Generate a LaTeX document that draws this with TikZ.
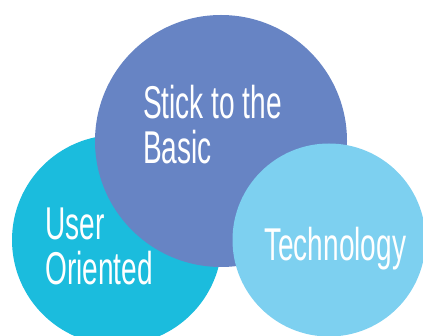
\documentclass[tikz,border=0pt]{standalone}
\usepackage{fontspec}
\setmainfont{Liberation Sans}
\newfontfamily\condfont[FakeStretch=0.61]{Liberation Sans}
\definecolor{basicblue}{RGB}{103,132,196}
\definecolor{usercyan}{RGB}{27,188,221}
\definecolor{techblue}{RGB}{125,208,240}

\begin{document}
\begin{tikzpicture}[x=1pt, y=-1pt, bubble/.style={circle, inner sep=0pt}, bubble text/.style={text=white, anchor=north west, inner sep=0pt, align=left, font=\condfont\fontsize{46}{45}\selectfont}]

    \useasboundingbox (0,0) rectangle (423,336);
    \clip (0,0) rectangle (423,336);

    % Circles
    \node[bubble, fill=usercyan, minimum size=210pt] (U) at (117,240) {};
    \node[bubble, fill=basicblue, minimum size=252pt] (B) at (221,141) {};
    \node[bubble, fill=techblue, minimum size=193pt] (T) at (329,240) {};

    % Texts
    \node[bubble text] (Btext) at (143,85) {Stick to the\\Basic};
    \node[bubble text] (Utext) at (45,208) {User\\Oriented};
    \node[bubble text] (Ttext) at (264,227) {Technology};

\end{tikzpicture}
\end{document}
